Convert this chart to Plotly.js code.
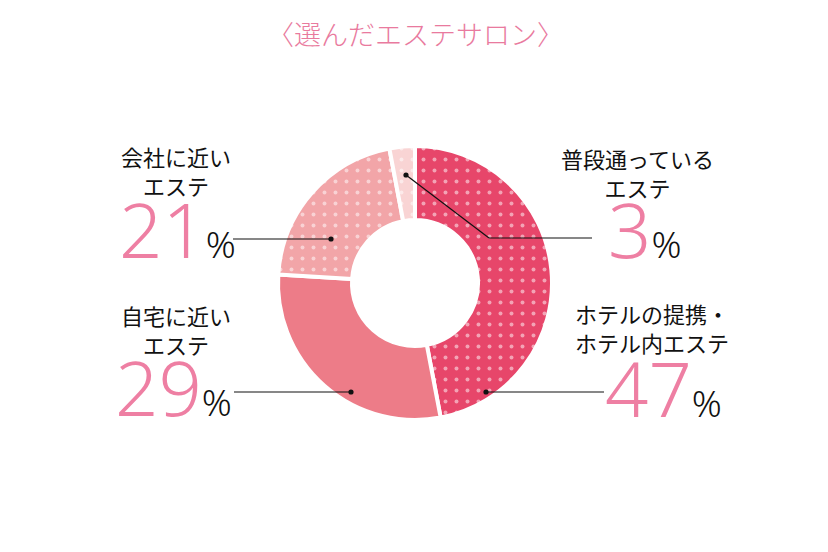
<!DOCTYPE html>
<html>
<head>
<meta charset="utf-8">
<script src="https://cdn.plot.ly/plotly-3.0.1.min.js"></script>
<style>html,body{margin:0;padding:0;background:#fff;}#chart{width:828px;height:552px;}</style>
</head>
<body>
<div id="chart"></div>
<script>
// ---- data ----
const categories = ["ホテルの提携・ホテル内エステ", "自宅に近いエステ", "会社に近いエステ", "普段通っているエステ"];
const values = [47, 29, 21, 3];
const sliceColors = ["#e7466a", "#ed7c88", "#f2a5a8", "#f9d4d4"];
const patternShapes = [".", "", ".", "."];
const labelLines = [["ホテルの提携・", "ホテル内エステ"], ["自宅に近い", "エステ"], ["会社に近い", "エステ"], ["普段通っている", "エステ"]];
const titleText = "〈選んだエステサロン〉";

const W = 828, H = 552;
const px = x => x / W;
const py = y => 1 - y / H;
const cx = 415, cy = 283, R = 137;

const pink = "#ee7fa3";
const numFont = "'Noto Sans', 'Noto Sans CJK JP', sans-serif";
const jpFont = "'Noto Sans CJK JP', sans-serif";

const trace = {
  type: "pie",
  values: values,
  labels: categories,
  sort: false,
  direction: "clockwise",
  rotation: 0,
  hole: 0.46,
  textinfo: "none",
  hoverinfo: "label+percent",
  showlegend: false,
  domain: {x: [px(cx - R), px(cx + R)], y: [py(cy + R), py(cy - R)]},
  marker: {
    colors: sliceColors,
    line: {color: "#ffffff", width: 4},
    pattern: {shape: patternShapes, fgcolor: "#ffffff", bgcolor: sliceColors, size: 11, solidity: 0.1, fillmode: "overlay"}
  }
};

// label placements (pixel positions, styling only)
const labelPos = [
  {x: 652, y: 327, nx: 663, ny: 387},
  {x: 176, y: 329, nx: 173, ny: 386},
  {x: 176, y: 171, nx: 177, ny: 229},
  {x: 637, y: 173, nx: 644, ny: 229}
];

const annotations = [];
annotations.push({text: titleText, xref: "paper", yref: "paper", x: px(415), y: py(33), xanchor: "center", yanchor: "middle", showarrow: false, font: {family: jpFont, size: 27, color: "#e97a9e", weight: 300}});
values.forEach((v, i) => {
  const p = labelPos[i];
  annotations.push({text: labelLines[i][0] + "<br>" + labelLines[i][1], xref: "paper", yref: "paper", x: px(p.x), y: py(p.y), xanchor: "center", yanchor: "middle", align: "center", showarrow: false, font: {family: jpFont, size: 22, color: "#111"}});
  annotations.push({text: "<span style='font-size:76px;color:" + pink + ";font-weight:300'>" + v + "</span><span style='font-size:37px;color:#111;font-weight:300'>%</span>", xref: "paper", yref: "paper", x: px(p.nx), y: py(p.ny), xanchor: "center", yanchor: "middle", showarrow: false, font: {family: numFont, size: 20, color: "#111"}});
});

// leader lines
const leaders = [
  [[486, 392], [604, 392]],
  [[351, 392], [234, 392]],
  [[331, 239], [233, 239]],
  [[406, 175], [489, 238], [592, 238]]
];
const shapes = [];
leaders.forEach(pts => {
  for (let k = 0; k < pts.length - 1; k++) {
    shapes.push({type: "line", xref: "paper", yref: "paper", x0: px(pts[k][0]), y0: py(pts[k][1]), x1: px(pts[k+1][0]), y1: py(pts[k+1][1]), line: {color: "#111", width: 1.2}});
  }
  const d = pts[0], r = 2.6;
  shapes.push({type: "circle", xref: "paper", yref: "paper", x0: px(d[0] - r), x1: px(d[0] + r), y0: py(d[1] + r), y1: py(d[1] - r), fillcolor: "#111", line: {width: 0}});
});

const layout = {
  width: W, height: H,
  margin: {l: 0, r: 0, t: 0, b: 0},
  paper_bgcolor: "#ffffff",
  plot_bgcolor: "#ffffff",
  showlegend: false,
  annotations: annotations,
  shapes: shapes
};

Plotly.newPlot("chart", [trace], layout, {displayModeBar: false, staticPlot: true});
</script>
</body>
</html>
